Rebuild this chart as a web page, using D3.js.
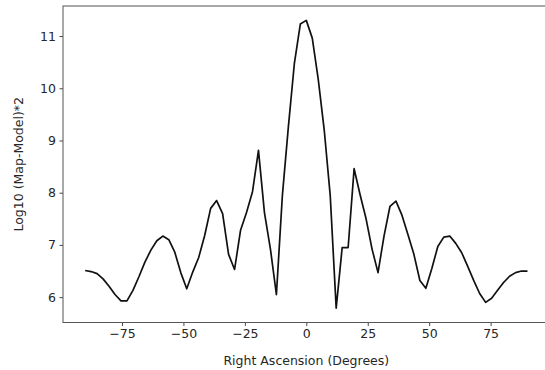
<!DOCTYPE html>
<html>
<head>
<meta charset="utf-8">
<script src="https://cdn.jsdelivr.net/npm/d3@7"></script>
<style>
  html, body { margin: 0; padding: 0; background: #fff; }
  svg { display: block; }
  .tick text { font-family: "DejaVu Sans", sans-serif; font-size: 12.5px; fill: #262626; }
  .lbl { font-family: "DejaVu Sans", sans-serif; font-size: 12.5px; fill: #262626; }
</style>
</head>
<body>
<svg id="chart" width="545" height="370"></svg>
<script>
// 75 evenly spaced right-ascension samples between -90 and 90 degrees
const nSamples = 75;
const raStart = -90, raEnd = 90;
const rightAscension = d3.range(nSamples).map(i => raStart + i * (raEnd - raStart) / (nSamples - 1));

// log10 of the squared map-minus-model residual at each sample
const logResidual = [
  6.51, 6.49, 6.45, 6.35, 6.21, 6.05, 5.93, 5.93, 6.13, 6.39,
  6.67, 6.90, 7.08, 7.17, 7.10, 6.86, 6.47, 6.16, 6.48, 6.76,
  7.18, 7.70, 7.85, 7.60, 6.82, 6.53, 7.28, 7.62, 8.02, 8.81,
  7.62, 6.92, 6.05, 7.95, 9.26, 10.47, 11.23, 11.30, 10.96, 10.17,
  9.20, 7.95, 5.79, 6.95, 6.95, 8.46, 7.96, 7.50, 6.92, 6.47,
  7.17, 7.74, 7.84, 7.57, 7.20, 6.82, 6.32, 6.17, 6.55, 6.97,
  7.15, 7.17, 7.03, 6.85, 6.59, 6.32, 6.07, 5.90, 5.98, 6.13,
  6.28, 6.40, 6.47, 6.50, 6.50
];

const xTicks = [-75, -50, -25, 0, 25, 50, 75];
const yTicks = [6, 7, 8, 9, 10, 11];

const xTitle = "Right Ascension (Degrees)";
const yTitle = "Log10 (Map-Model)*2";

const svg = d3.select("#chart");
const plot = { left: 63, top: 6, right: 549.6, bottom: 322.5 };

// 5% padding around the data on both axes
function padded(ext) {
  const m = (ext[1] - ext[0]) * 0.05;
  return [ext[0] - m, ext[1] + m];
}

const x = d3.scaleLinear()
  .domain(padded(d3.extent(rightAscension)))
  .range([plot.left, plot.right]);

const y = d3.scaleLinear()
  .domain(padded(d3.extent(logResidual)))
  .range([plot.bottom, plot.top]);

const fmt = d => d3.format("d")(d).replace("-", "\u2212");

// axes
const xAxis = svg.append("g")
  .attr("transform", `translate(0,${plot.bottom})`)
  .call(d3.axisBottom(x).tickValues(xTicks).tickFormat(fmt).tickSize(3.5).tickPadding(3.5).tickSizeOuter(0));

const yAxis = svg.append("g")
  .attr("transform", `translate(${plot.left},0)`)
  .call(d3.axisLeft(y).tickValues(yTicks).tickFormat(fmt).tickSize(3.5).tickPadding(3.5).tickSizeOuter(0));

[xAxis, yAxis].forEach(g => {
  g.select(".domain").remove();
  g.selectAll(".tick line").attr("stroke", "#333").attr("stroke-width", 0.9);
});

// frame
svg.append("rect")
  .attr("x", plot.left).attr("y", plot.top)
  .attr("width", plot.right - plot.left)
  .attr("height", plot.bottom - plot.top)
  .attr("fill", "none")
  .attr("stroke", "#555")
  .attr("stroke-width", 1);

// residual curve
const line = d3.line()
  .x((d, i) => x(rightAscension[i]))
  .y(d => y(d));

svg.append("path")
  .datum(logResidual)
  .attr("d", line)
  .attr("fill", "none")
  .attr("stroke", "#111")
  .attr("stroke-width", 1.7)
  .attr("stroke-linejoin", "round");

// axis titles
svg.append("text")
  .attr("class", "lbl")
  .attr("x", x(0))
  .attr("y", 365)
  .attr("text-anchor", "middle")
  .text(xTitle);

svg.append("text")
  .attr("class", "lbl")
  .attr("transform", `translate(23,${(plot.top + plot.bottom) / 2}) rotate(-90)`)
  .attr("text-anchor", "middle")
  .text(yTitle);
</script>
</body>
</html>
